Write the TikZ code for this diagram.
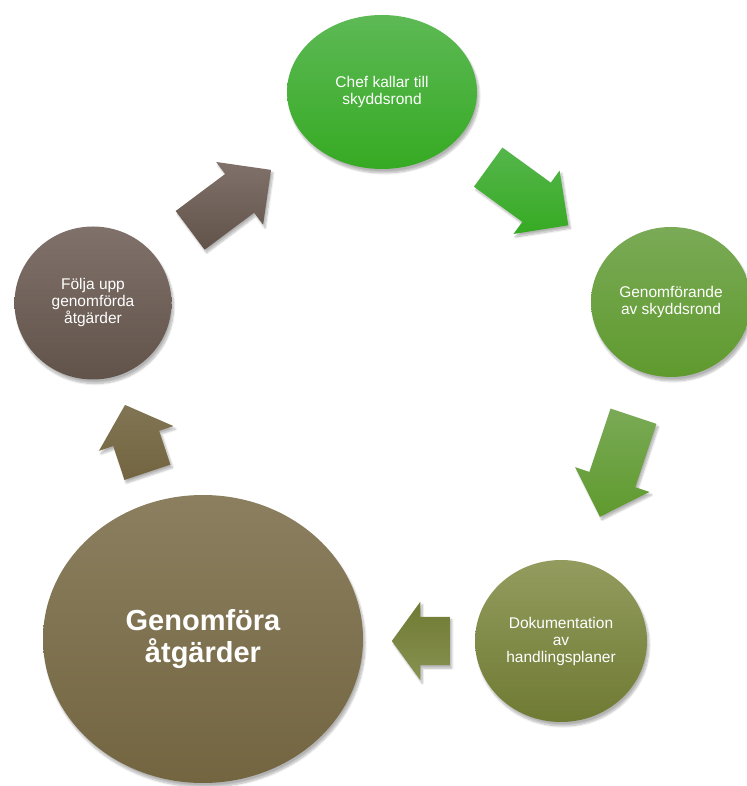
\documentclass[tikz,border=0pt]{standalone}
\usepackage{fontspec}
\setmainfont{Liberation Sans}
\usetikzlibrary{shapes.geometric,shapes.arrows,shadows.blur}
\definecolor{chefTop}{HTML}{5DB955}
\definecolor{chefBot}{HTML}{36AA23}
\definecolor{genTop}{HTML}{7AAA56}
\definecolor{genBot}{HTML}{5F9A2E}
\definecolor{dokTop}{HTML}{939C5E}
\definecolor{dokBot}{HTML}{6F7A33}
\definecolor{atgTop}{HTML}{8B7F60}
\definecolor{atgBot}{HTML}{736540}
\definecolor{foljTop}{HTML}{80726A}
\definecolor{foljBot}{HTML}{61534A}
\tikzset{
  stage/.style={ellipse,inner sep=0pt,text=white,align=center,
    font=\fontsize{15.5}{17}\selectfont,
    blur shadow={shadow xshift=2pt,shadow yshift=-4pt,shadow blur steps=10,shadow opacity=30}},
  turn/.style={single arrow,inner sep=0pt,text height=24pt,text depth=24pt,
    single arrow head extend=15pt,minimum width=1pt,anchor=tail,
    blur shadow={shadow xshift=2pt,shadow yshift=-3pt,shadow blur steps=8,shadow opacity=30}}
}

\begin{document}
\begin{tikzpicture}[x=1pt,y=1pt]
  \useasboundingbox (0,0) rectangle (746,786);
  \node[stage,minimum width=190pt,minimum height=154pt,top color=chefTop,bottom color=chefBot]
       (chef) at (382,694) {Chef kallar till\\skyddsrond};
  \node[stage,minimum width=160pt,minimum height=150pt,top color=genTop,bottom color=genBot]
       (rond) at (671,484) {Genomförande\\av skyddsrond};
  \node[stage,minimum width=172pt,minimum height=162pt,top color=dokTop,bottom color=dokBot]
       (dok) at (561,145) {Dokumentation\\av\\handlingsplaner};
  \node[stage,minimum width=320pt,minimum height=288pt,top color=atgTop,bottom color=atgBot,
        font=\fontsize{29}{32}\selectfont\bfseries]
       (atg) at (203,147) {Genomföra\\åtgärder};
  \node[stage,minimum width=157pt,minimum height=153pt,top color=foljTop,bottom color=foljBot]
       (folj) at (93,483) {Följa upp\\genomförda\\åtgärder};
  % arrows between the stages
  \node[turn,rotate=-36,minimum height=99pt,top color=chefTop!80!chefBot,bottom color=chefBot]
       (a1) at (488,619) {};
  \node[turn,rotate=-108.4,minimum height=106pt,top color=genTop,bottom color=genBot]
       (a2) at (633.5,370) {};
  \node[turn,rotate=180,minimum height=58pt,single arrow tip angle=108,
        top color=dokBot,bottom color=dokTop!70!dokBot]
       (a3) at (450,145) {};
  \node[turn,rotate=108.4,minimum height=71pt,single arrow tip angle=96,
        top color=atgTop!60!atgBot,bottom color=atgBot]
       (a4) at (147.5,313.5) {};
  \node[turn,rotate=36.8,minimum height=101pt,top color=foljTop,bottom color=foljBot]
       (a5) at (190,555.5) {};
\end{tikzpicture}
\end{document}
